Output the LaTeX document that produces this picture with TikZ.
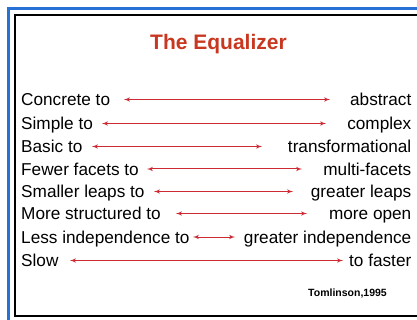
\documentclass[tikz,border=0pt]{standalone}
\usepackage{fontspec}
\setmainfont{Liberation Sans}
\usetikzlibrary{arrows}
\definecolor{frameblue}{RGB}{38,112,214}
\definecolor{titlered}{RGB}{200,56,32}
\definecolor{arrowred}{RGB}{206,42,52}

\begin{document}
\begin{tikzpicture}[<->,>=latex',x=1pt,y=-1pt,
  left text/.style={anchor=base west,inner sep=0pt,
  font=\fontsize{17.2}{20}\selectfont},
  right text/.style={anchor=base east,inner sep=0pt,
  font=\fontsize{17.2}{20}\selectfont},
  span/.style={color=arrowred,line width=1pt}]
  \clip (0,0) rectangle (417,320);
  \draw[-,frameblue,line width=3pt] (8.5,8.5) rectangle (440,340);
  \draw[-,black,line width=2pt] (15,15) rectangle (430,316);

  \node[anchor=base,inner sep=0pt,text=titlered,
  font=\fontsize{21}{24}\selectfont\bfseries] (title) at (218.5,50) {The Equalizer};

  % left column
  \node[left text] (C) at (21,105.8) {Concrete to};
  \node[left text] (Si) at (21,129.8) {Simple to};
  \node[left text] (B) at (21,152.8) {Basic to};
  \node[left text] (Fe) at (21,175.3) {Fewer facets to};
  \node[left text] (Sm) at (21,197.8) {Smaller leaps to};
  \node[left text] (Mo) at (21,219.8) {More structured to};
  \node[left text] (Le) at (21,243.3) {Less independence to};
  \node[left text] (Sl) at (21,266.8) {Slow};

  % right column
  \node[right text] (A) at (411.5,105.8) {abstract};
  \node[right text] (Co) at (411.5,129.8) {complex};
  \node[right text] (T) at (411.5,152.8) {transformational};
  \node[right text] (Mu) at (411.5,175.3) {multi-facets};
  \node[right text] (Gl) at (411.5,197.8) {greater leaps};
  \node[right text] (Op) at (411.5,219.8) {more open};
  \node[right text] (Gi) at (411.5,243.3) {greater independence};
  \node[right text] (Fa) at (411.5,266.8) {to faster};

  \node[anchor=base,inner sep=0pt,
  font=\fontsize{10.5}{12}\selectfont\bfseries] (ref) at (347.5,296) {Tomlinson,1995};

  % arrow ends
  \coordinate (C1) at (124,99.5);   \coordinate (A1) at (330,99.5);
  \coordinate (Si1) at (102,123.5); \coordinate (Co1) at (326,123.5);
  \coordinate (B1) at (92,146.5);   \coordinate (T1) at (262,146.5);
  \coordinate (Fe1) at (147,169);   \coordinate (Mu1) at (302,169);
  \coordinate (Sm1) at (154,191.5); \coordinate (Gl1) at (293,191.5);
  \coordinate (Mo1) at (176,213.5); \coordinate (Op1) at (307,213.5);
  \coordinate (Le1) at (193,237);   \coordinate (Gi1) at (235,237);
  \coordinate (Sl1) at (70,260.5);  \coordinate (Fa1) at (343,260.5);

  \path[span]
    (C1) edge (A1)
    (Si1) edge (Co1)
    (B1) edge (T1)
    (Fe1) edge (Mu1)
    (Sm1) edge (Gl1)
    (Mo1) edge (Op1)
    (Le1) edge (Gi1)
    (Sl1) edge (Fa1);
\end{tikzpicture}
\end{document}
